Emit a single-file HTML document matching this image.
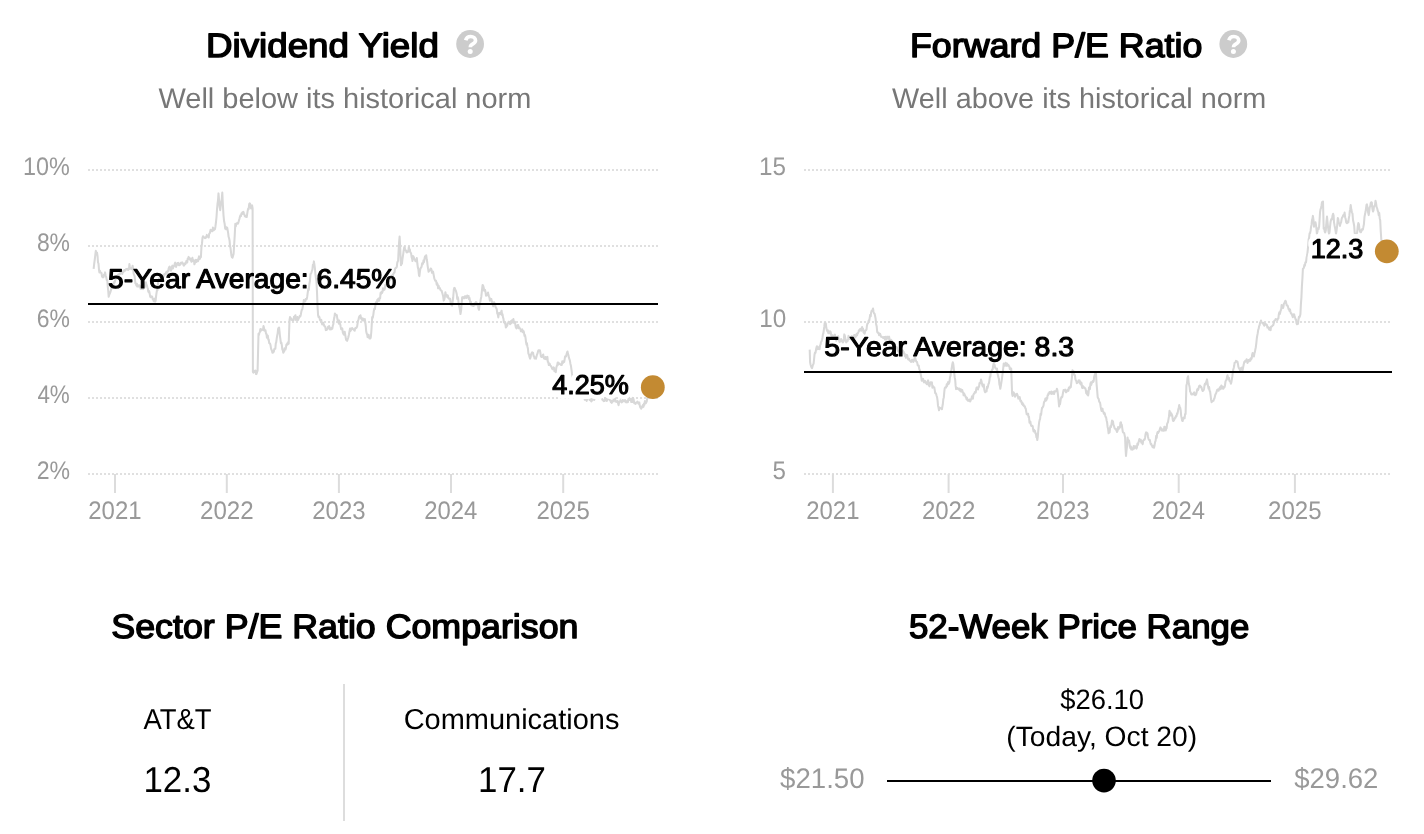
<!DOCTYPE html>
<html><head><meta charset="utf-8"><title>Valuation</title>
<style>
html,body{margin:0;padding:0;background:#fff;}
body{width:1424px;height:834px;overflow:hidden;}
svg{display:block;will-change:transform;}
text{font-family:"Liberation Sans",sans-serif;text-rendering:geometricPrecision;}
</style></head><body>
<svg width="1424" height="834" viewBox="0 0 1424 834">
<line x1="88" y1="170" x2="658" y2="170" stroke="#d6d6d6" stroke-width="1.6" stroke-dasharray="2 2"/>
<line x1="88" y1="246" x2="658" y2="246" stroke="#d6d6d6" stroke-width="1.6" stroke-dasharray="2 2"/>
<line x1="88" y1="322" x2="658" y2="322" stroke="#d6d6d6" stroke-width="1.6" stroke-dasharray="2 2"/>
<line x1="88" y1="398" x2="658" y2="398" stroke="#d6d6d6" stroke-width="1.6" stroke-dasharray="2 2"/>
<line x1="88" y1="474" x2="658" y2="474" stroke="#d6d6d6" stroke-width="1.6" stroke-dasharray="2 2"/>
<line x1="804" y1="170" x2="1390" y2="170" stroke="#d6d6d6" stroke-width="1.6" stroke-dasharray="2 2"/>
<line x1="804" y1="322" x2="1390" y2="322" stroke="#d6d6d6" stroke-width="1.6" stroke-dasharray="2 2"/>
<line x1="804" y1="474" x2="1390" y2="474" stroke="#d6d6d6" stroke-width="1.6" stroke-dasharray="2 2"/>
<line x1="115.0" y1="474" x2="115.0" y2="493" stroke="#dcdcdc" stroke-width="2"/>
<line x1="226.8" y1="474" x2="226.8" y2="493" stroke="#dcdcdc" stroke-width="2"/>
<line x1="338.9" y1="474" x2="338.9" y2="493" stroke="#dcdcdc" stroke-width="2"/>
<line x1="451.0" y1="474" x2="451.0" y2="493" stroke="#dcdcdc" stroke-width="2"/>
<line x1="563.2" y1="474" x2="563.2" y2="493" stroke="#dcdcdc" stroke-width="2"/>
<line x1="832.9" y1="474" x2="832.9" y2="493" stroke="#dcdcdc" stroke-width="2"/>
<line x1="948.6" y1="474" x2="948.6" y2="493" stroke="#dcdcdc" stroke-width="2"/>
<line x1="1063.0" y1="474" x2="1063.0" y2="493" stroke="#dcdcdc" stroke-width="2"/>
<line x1="1178.7" y1="474" x2="1178.7" y2="493" stroke="#dcdcdc" stroke-width="2"/>
<line x1="1294.9" y1="474" x2="1294.9" y2="493" stroke="#dcdcdc" stroke-width="2"/>
<path id="lineL" d="M93.6,268.8 L94.1,264.7 L94.7,260.0 L95.2,256.0 L95.8,250.8 L96.4,252.9 L97.0,252.5 L97.6,256.5 L98.0,262.4 L98.5,263.6 L99.0,269.9 L99.4,272.4 L99.9,270.8 L100.4,272.4 L100.9,272.7 L101.5,273.1 L102.0,276.3 L102.5,277.1 L103.0,277.4 L103.5,277.1 L104.0,274.7 L104.6,274.5 L105.1,272.4 L105.6,275.2 L106.2,277.1 L106.8,280.2 L107.3,280.3 L107.8,286.9 L108.2,290.4 L108.7,296.8 L109.2,294.9 L109.8,293.5 L110.4,292.0 L110.9,290.4 L111.4,288.3 L111.9,287.7 L112.5,284.8 L113.0,286.2 L113.5,284.3 L114.0,282.0 L114.5,282.7 L115.0,280.8 L115.5,279.8 L116.0,276.5 L116.5,278.0 L117.0,277.9 L117.5,276.4 L118.0,274.8 L118.5,276.1 L118.9,275.1 L119.4,273.7 L119.9,273.7 L120.4,273.9 L120.8,271.3 L121.3,270.5 L121.8,273.0 L122.3,273.8 L122.7,271.7 L123.2,272.3 L123.7,271.4 L124.2,270.0 L124.6,270.9 L125.1,270.6 L125.6,269.7 L126.1,269.0 L126.6,269.4 L127.1,268.8 L127.6,269.1 L128.1,270.0 L128.5,268.5 L129.0,269.1 L129.4,264.1 L129.9,267.0 L130.3,268.1 L130.8,267.8 L131.2,269.3 L131.7,267.8 L132.2,267.5 L132.6,265.8 L133.1,268.4 L133.6,273.7 L134.1,274.8 L134.6,276.2 L135.0,279.9 L135.4,283.4 L135.9,283.7 L136.4,285.6 L136.9,283.7 L137.3,286.5 L137.8,286.0 L138.3,285.3 L138.8,286.5 L139.3,285.2 L139.7,286.8 L140.2,287.0 L140.7,289.0 L141.2,286.4 L141.7,286.6 L142.1,288.9 L142.6,287.8 L143.1,289.1 L143.6,287.6 L144.1,287.2 L144.5,287.6 L145.0,286.1 L145.5,282.5 L145.9,282.3 L146.4,284.6 L146.9,285.4 L147.3,287.3 L147.8,288.4 L148.3,291.6 L148.7,292.3 L149.2,291.1 L149.7,293.9 L150.2,296.7 L150.7,297.1 L151.2,296.8 L151.7,296.4 L152.2,296.8 L152.7,299.3 L153.2,299.3 L153.7,301.3 L154.1,299.1 L154.6,298.6 L155.1,301.7 L155.6,300.9 L156.1,296.2 L156.5,293.2 L157.0,290.0 L157.5,290.3 L158.1,281.3 L158.5,280.3 L159.0,278.4 L159.4,280.4 L159.9,279.0 L160.3,278.7 L160.8,276.7 L161.2,279.5 L161.7,276.9 L162.2,277.7 L162.6,277.5 L163.1,277.8 L163.5,276.6 L164.0,275.2 L164.4,274.0 L164.9,273.9 L165.4,274.4 L165.8,273.2 L166.3,272.0 L166.8,273.4 L167.2,271.5 L167.7,271.2 L168.2,271.3 L168.6,268.6 L169.1,267.3 L169.6,266.5 L170.0,268.4 L170.5,269.9 L171.0,270.7 L171.4,269.4 L171.9,266.7 L172.4,265.6 L172.9,268.5 L173.3,266.8 L173.8,266.6 L174.3,265.4 L174.7,263.9 L175.2,262.6 L175.7,265.5 L176.1,266.9 L176.6,264.6 L177.1,264.3 L177.5,263.0 L178.0,264.7 L178.4,262.9 L178.9,265.3 L179.4,265.3 L179.8,265.0 L180.3,264.4 L180.8,262.7 L181.2,263.6 L181.7,262.6 L182.2,262.4 L182.6,262.9 L183.1,263.8 L183.5,265.2 L184.0,265.6 L184.5,263.7 L184.9,263.4 L185.4,264.1 L185.9,263.1 L186.3,261.1 L186.8,261.2 L187.2,262.5 L187.7,258.6 L188.2,258.8 L188.6,256.9 L189.1,258.1 L189.6,259.4 L190.1,258.4 L190.5,259.5 L191.0,260.7 L191.5,261.8 L192.0,258.9 L192.4,257.8 L192.9,260.9 L193.4,261.1 L193.9,260.3 L194.4,264.3 L194.8,263.4 L195.3,260.6 L195.8,259.8 L196.3,262.0 L196.7,261.3 L197.2,259.8 L197.7,261.3 L198.1,261.2 L198.6,258.2 L199.0,256.4 L199.5,259.1 L200.0,258.7 L200.4,256.3 L200.9,257.2 L201.4,247.7 L202.0,243.4 L202.5,237.9 L203.0,236.3 L203.5,236.8 L203.9,237.2 L204.4,237.6 L204.9,238.2 L205.4,237.2 L205.8,237.9 L206.3,236.9 L206.8,234.9 L207.3,236.1 L207.8,236.3 L208.2,237.2 L208.7,237.5 L209.2,233.7 L209.7,233.3 L210.1,232.2 L210.6,229.8 L211.1,230.4 L211.5,230.2 L212.0,231.2 L212.4,231.3 L212.9,227.6 L213.4,228.8 L213.8,230.2 L214.3,228.7 L214.9,229.3 L215.4,226.7 L216.0,222.0 L216.5,217.0 L217.0,209.5 L217.5,204.0 L218.0,200.3 L218.5,193.4 L219.1,200.9 L219.6,206.6 L220.2,210.2 L220.7,206.2 L221.2,202.2 L221.8,198.6 L222.3,192.6 L222.9,205.4 L223.5,215.3 L224.1,221.3 L224.6,223.4 L225.2,228.7 L225.7,226.8 L226.2,229.3 L226.7,229.1 L227.2,227.6 L227.7,230.4 L228.2,233.3 L228.6,236.8 L229.1,238.3 L229.6,240.8 L230.0,246.0 L230.5,248.0 L231.0,252.2 L231.4,255.4 L231.9,257.2 L232.5,257.6 L233.0,256.0 L233.6,253.9 L234.2,244.0 L234.7,235.9 L235.3,223.7 L235.8,226.4 L236.2,223.9 L236.7,223.9 L237.2,222.9 L237.6,223.7 L238.1,223.5 L238.6,221.8 L239.0,220.3 L239.5,218.6 L240.0,216.6 L240.5,215.2 L241.0,216.2 L241.4,213.6 L241.9,213.5 L242.4,212.4 L242.9,213.9 L243.4,211.9 L243.9,213.3 L244.3,214.2 L244.8,216.0 L245.3,216.6 L245.8,216.0 L246.2,216.0 L246.7,217.0 L247.2,213.9 L247.7,210.7 L248.2,208.6 L248.7,208.9 L249.2,204.1 L249.7,203.3 L250.2,204.1 L250.7,206.8 L251.1,208.5 L251.6,206.5 L252.1,205.4 L252.6,208.5 L252.9,372.0 L253.4,372.7 L253.9,370.8 L254.4,372.0 L255.0,371.1 L255.5,370.5 L256.0,374.0 L256.5,374.1 L257.1,371.9 L257.6,370.6 L258.5,333.7 L259.0,334.9 L259.4,332.6 L259.9,332.0 L260.3,329.2 L260.8,329.0 L261.2,330.6 L261.7,330.1 L262.1,329.9 L262.6,329.4 L263.0,329.9 L263.5,326.1 L264.0,328.0 L264.5,330.7 L265.0,330.9 L265.5,330.3 L266.0,333.7 L266.5,333.9 L266.9,337.6 L267.4,336.4 L267.8,335.6 L268.3,339.5 L268.7,339.5 L269.2,343.1 L269.6,343.3 L270.1,343.8 L270.5,345.1 L271.0,348.3 L271.4,349.7 L271.9,350.4 L272.4,352.8 L272.9,352.7 L273.4,351.3 L273.8,351.7 L274.3,348.9 L274.8,348.9 L275.3,348.8 L275.8,343.4 L276.2,342.3 L276.7,338.7 L277.2,335.5 L277.7,333.1 L278.1,328.9 L278.6,327.8 L279.1,327.6 L279.5,331.4 L280.0,336.5 L280.5,339.8 L280.9,343.2 L281.4,342.7 L281.9,345.6 L282.3,349.3 L282.8,350.4 L283.3,352.7 L283.7,350.4 L284.2,351.5 L284.6,348.2 L285.1,348.6 L285.5,349.5 L286.0,347.5 L286.4,344.6 L286.9,345.1 L287.3,343.2 L287.8,344.3 L288.2,342.1 L288.7,343.7 L289.5,320.2 L290.0,317.1 L290.4,319.6 L290.9,318.2 L291.3,318.7 L291.8,320.0 L292.2,319.5 L292.7,320.3 L293.1,319.5 L293.6,320.1 L294.0,316.7 L294.5,317.3 L294.9,316.2 L295.4,315.2 L295.9,320.0 L296.4,318.9 L296.9,318.2 L297.4,317.0 L297.9,320.2 L298.4,319.1 L298.9,318.0 L299.4,316.9 L299.8,315.8 L300.3,316.4 L300.8,314.7 L301.3,311.8 L301.8,309.8 L302.3,309.4 L302.8,306.5 L303.3,304.3 L303.8,300.0 L304.3,301.6 L304.8,300.9 L305.3,301.4 L305.7,299.0 L306.2,299.4 L306.7,299.1 L307.2,296.7 L307.7,292.9 L308.3,288.8 L308.8,290.0 L309.4,283.7 L309.9,281.0 L310.5,274.0 L311.0,273.5 L311.5,272.3 L312.0,270.5 L312.4,269.8 L312.9,264.7 L313.4,265.1 L313.9,261.4 L314.4,264.6 L314.9,268.3 L315.4,274.1 L315.9,277.9 L316.4,280.7 L317.0,291.9 L317.5,305.6 L318.1,315.2 L318.6,317.3 L319.0,316.4 L319.5,317.3 L319.9,319.7 L320.4,320.6 L320.8,320.1 L321.3,319.9 L321.7,322.8 L322.2,324.4 L322.6,323.6 L323.1,322.7 L323.5,323.7 L324.0,325.3 L324.5,326.3 L324.9,326.3 L325.4,327.3 L325.8,330.1 L326.3,329.0 L326.8,329.8 L327.2,328.5 L327.7,328.9 L328.1,326.8 L328.6,328.0 L329.1,326.1 L329.5,327.2 L330.0,329.5 L330.5,329.3 L330.9,328.4 L331.4,329.3 L331.8,327.7 L332.3,328.6 L332.8,325.8 L333.3,324.3 L333.9,319.4 L334.4,317.3 L334.9,313.5 L335.4,314.7 L335.9,315.0 L336.3,314.9 L336.8,315.2 L337.3,318.6 L337.8,320.8 L338.3,320.3 L338.8,323.6 L339.2,320.6 L339.7,323.7 L340.2,324.1 L340.7,326.9 L341.2,329.3 L341.7,328.1 L342.3,328.6 L342.8,332.3 L343.3,333.7 L343.8,334.6 L344.2,334.8 L344.7,331.7 L345.2,334.6 L345.7,337.6 L346.1,339.8 L346.6,340.4 L347.1,340.8 L347.6,339.4 L348.1,338.0 L348.5,336.6 L349.0,334.2 L349.5,331.5 L350.0,328.6 L350.5,330.9 L350.9,330.3 L351.4,328.4 L351.9,328.7 L352.3,328.1 L352.8,329.2 L353.3,329.2 L353.7,329.2 L354.2,330.3 L354.7,330.6 L355.2,328.3 L355.6,327.9 L356.1,328.2 L356.6,327.6 L357.1,326.6 L357.6,323.3 L358.1,320.4 L358.6,319.3 L359.0,317.1 L359.5,316.1 L360.0,317.1 L360.5,315.3 L361.0,318.4 L361.4,317.7 L361.9,319.7 L362.4,320.3 L362.9,318.5 L363.4,320.2 L363.9,320.0 L364.3,320.8 L364.8,319.1 L365.3,322.5 L365.8,326.1 L366.2,331.5 L366.7,333.6 L367.2,334.4 L367.6,337.1 L368.1,336.5 L368.6,334.7 L369.0,337.2 L369.4,338.5 L369.9,338.4 L370.4,338.5 L370.8,337.2 L371.3,332.0 L371.7,325.4 L372.2,317.1 L372.8,317.7 L373.3,314.8 L373.8,311.0 L374.4,308.5 L374.9,309.0 L375.4,305.2 L375.9,302.2 L376.3,303.8 L376.8,303.0 L377.3,299.8 L377.8,301.2 L378.2,298.8 L378.7,299.0 L379.2,300.7 L379.6,298.0 L380.1,298.4 L380.6,292.8 L381.1,293.8 L381.6,291.8 L382.0,293.0 L382.5,291.9 L383.0,288.3 L383.5,290.2 L384.0,289.8 L384.4,289.7 L384.9,287.9 L385.4,284.8 L385.9,286.0 L386.4,282.8 L386.9,282.4 L387.4,283.1 L387.8,282.7 L388.3,282.1 L388.8,279.7 L389.3,280.8 L389.8,280.0 L390.2,278.9 L390.7,277.7 L391.2,278.9 L391.6,276.4 L392.1,275.3 L392.6,276.9 L393.1,274.5 L393.6,273.6 L394.0,272.7 L394.5,272.5 L394.9,269.4 L395.4,268.2 L395.9,267.8 L396.3,267.8 L396.8,266.8 L397.2,263.1 L397.7,261.4 L398.1,261.0 L398.6,250.9 L399.1,242.3 L399.6,236.5 L400.1,245.3 L400.5,255.6 L401.0,265.3 L401.4,263.3 L401.9,263.8 L402.4,259.3 L402.8,256.9 L403.2,254.2 L403.7,250.5 L404.2,247.6 L404.6,246.6 L405.1,249.8 L405.6,250.5 L406.1,250.6 L406.5,252.4 L407.0,252.2 L407.5,252.3 L408.0,251.8 L408.4,250.4 L408.9,246.6 L409.3,250.5 L409.8,249.5 L410.2,252.2 L410.7,252.6 L411.1,253.4 L411.6,257.2 L412.1,258.6 L412.5,261.0 L413.0,256.0 L413.5,256.7 L413.9,257.7 L414.4,259.0 L414.9,259.7 L415.4,261.1 L415.8,261.3 L416.3,260.9 L416.8,258.1 L417.4,264.0 L417.9,267.8 L418.4,269.6 L419.0,275.4 L419.4,276.1 L419.9,271.7 L420.4,268.5 L420.8,267.9 L421.2,267.6 L421.7,266.2 L422.1,263.4 L422.6,264.3 L423.1,263.5 L423.5,260.3 L424.0,262.1 L424.6,258.1 L425.1,256.2 L425.7,257.9 L426.2,255.2 L426.7,259.3 L427.2,261.9 L427.6,265.6 L428.1,268.9 L428.6,271.7 L429.1,271.0 L429.6,270.3 L430.1,270.2 L430.6,268.5 L431.1,268.7 L431.6,270.1 L432.0,272.8 L432.5,271.8 L433.0,271.5 L433.4,273.5 L433.9,276.1 L434.3,278.3 L434.8,279.7 L435.3,280.7 L435.8,280.6 L436.2,281.3 L436.7,284.6 L437.2,283.3 L437.7,284.9 L438.1,288.3 L438.6,285.7 L439.1,288.3 L439.6,287.7 L440.1,289.0 L440.7,290.3 L441.2,290.5 L441.7,290.9 L442.2,292.8 L442.7,294.6 L443.2,296.6 L443.7,300.6 L444.3,299.5 L444.8,297.3 L445.4,292.2 L445.9,294.9 L446.4,294.7 L446.8,295.2 L447.3,297.2 L447.8,295.5 L448.3,297.9 L448.8,298.6 L449.2,298.4 L449.7,298.4 L450.2,298.9 L450.7,303.2 L451.1,303.2 L451.6,305.4 L452.1,305.6 L452.7,301.1 L453.2,297.5 L453.8,289.7 L454.3,287.9 L454.8,288.2 L455.3,289.9 L455.8,290.6 L456.3,292.2 L456.8,294.5 L457.2,298.9 L457.7,296.9 L458.2,298.9 L458.6,303.5 L459.1,306.0 L459.6,308.1 L460.0,310.7 L460.5,314.0 L461.1,310.3 L461.6,304.0 L462.2,297.2 L462.7,297.6 L463.1,297.0 L463.6,298.3 L464.0,297.5 L464.5,298.2 L464.9,296.2 L465.4,296.3 L465.8,297.8 L466.3,296.5 L466.7,297.9 L467.2,295.6 L467.7,297.1 L468.1,297.1 L468.6,296.0 L469.0,299.1 L469.5,298.0 L469.9,300.4 L470.4,303.2 L470.8,301.7 L471.3,305.3 L471.7,303.8 L472.2,305.6 L472.7,304.9 L473.1,305.6 L473.6,306.0 L474.1,305.2 L474.5,303.4 L475.0,303.3 L475.5,304.6 L475.9,302.1 L476.4,302.3 L476.9,304.5 L477.4,305.2 L478.0,305.2 L478.5,308.6 L479.0,309.8 L479.5,305.2 L479.9,303.3 L480.4,301.4 L480.8,298.9 L481.3,296.7 L481.7,292.9 L482.2,288.2 L482.6,285.0 L483.1,285.5 L483.6,287.2 L484.1,290.7 L484.6,290.4 L485.0,289.8 L485.5,292.0 L486.0,295.7 L486.5,295.6 L487.0,295.2 L487.5,294.8 L488.0,292.5 L488.4,294.6 L488.9,296.3 L489.4,297.4 L489.9,300.6 L490.4,298.7 L490.9,300.3 L491.3,299.0 L491.8,301.8 L492.3,301.6 L492.8,304.9 L493.3,306.3 L493.8,304.4 L494.2,302.2 L494.7,303.8 L495.2,305.3 L495.7,307.3 L496.2,308.0 L496.7,309.0 L497.3,313.6 L497.8,314.5 L498.3,317.4 L498.8,314.0 L499.2,312.9 L499.7,313.0 L500.2,313.5 L500.7,314.2 L501.1,312.1 L501.6,310.7 L502.1,315.2 L502.5,314.1 L503.0,317.4 L503.5,318.9 L503.9,322.3 L504.4,322.5 L504.9,323.4 L505.3,322.7 L505.8,327.5 L506.3,327.1 L506.8,325.0 L507.2,325.8 L507.7,323.5 L508.2,322.7 L508.6,321.8 L509.1,321.7 L509.6,322.5 L510.1,324.2 L510.6,323.8 L511.0,321.1 L511.5,323.0 L512.0,320.2 L512.4,322.0 L512.9,322.2 L513.4,319.1 L513.9,322.8 L514.4,321.8 L514.9,321.7 L515.4,325.1 L515.9,327.5 L516.4,328.3 L516.8,327.6 L517.3,325.8 L517.7,324.9 L518.2,324.9 L518.6,328.3 L519.1,327.1 L519.5,327.8 L520.0,328.4 L520.5,329.2 L520.9,331.3 L521.4,331.0 L521.8,330.6 L522.3,329.4 L522.7,332.2 L523.2,331.5 L523.6,331.1 L524.1,333.3 L524.5,335.8 L525.0,335.1 L525.5,337.7 L526.0,341.8 L526.5,344.6 L526.9,343.2 L527.4,346.5 L527.9,348.5 L528.4,353.6 L529.0,354.5 L529.5,357.0 L530.1,358.6 L530.6,357.2 L531.1,354.2 L531.6,353.4 L532.1,352.3 L532.6,352.7 L533.1,353.0 L533.6,356.1 L534.1,356.2 L534.5,358.4 L535.0,357.5 L535.5,358.3 L536.0,358.6 L536.5,356.5 L537.0,354.6 L537.5,353.5 L538.0,351.4 L538.5,350.2 L539.0,350.6 L539.4,350.7 L539.9,350.4 L540.4,353.0 L540.9,356.3 L541.3,356.9 L541.8,356.9 L542.3,356.5 L542.7,355.5 L543.2,354.5 L543.7,357.5 L544.1,358.5 L544.6,357.4 L545.0,358.9 L545.5,357.1 L546.0,359.2 L546.4,359.2 L546.9,358.6 L547.4,356.9 L547.8,361.9 L548.3,362.2 L548.8,365.0 L549.3,363.6 L549.7,363.7 L550.2,365.3 L550.7,365.9 L551.1,366.2 L551.6,367.3 L552.1,368.5 L552.5,369.2 L553.0,368.6 L553.5,367.4 L553.9,367.6 L554.4,371.2 L554.9,370.4 L555.3,370.8 L555.8,372.2 L556.3,367.6 L556.7,366.3 L557.2,365.3 L557.7,362.5 L558.1,364.7 L558.6,362.8 L559.1,363.9 L559.5,363.5 L560.0,364.1 L560.5,364.4 L560.9,365.0 L561.4,364.9 L561.8,364.9 L562.3,361.2 L562.8,363.1 L563.2,362.1 L563.7,361.1 L564.2,361.9 L564.6,359.6 L565.1,356.4 L565.6,356.2 L566.1,356.4 L566.5,354.4 L567.0,352.7 L567.5,351.5 L568.0,353.9 L568.5,355.4 L568.9,357.7 L569.4,359.1 L569.9,360.6 L570.4,363.7 L570.9,365.7 L571.5,369.9 L572.0,373.7 L572.5,376.6 L573.0,377.8 L573.5,377.8 L574.0,379.1 L574.5,380.2 L575.0,380.6 L575.5,381.5 L576.0,385.0 L576.5,386.5 L576.9,386.3 L577.4,386.7 L577.8,388.4 L578.3,388.8 L578.8,391.4 L579.2,390.4 L579.7,392.4 L580.2,391.5 L580.6,394.7 L581.1,395.4 L581.5,397.2 L582.0,396.0 L582.5,395.3 L582.9,395.1 L583.4,397.4 L583.9,396.9 L584.4,397.4 L584.8,399.7 L585.3,397.3 L585.8,398.0 L586.2,399.2 L586.7,400.9 L587.2,398.5 L587.7,397.4 L588.1,396.8 L588.6,396.7 L589.1,397.7 L589.6,399.9 L590.0,398.7 L590.5,400.6 L591.0,399.2 L591.4,401.4 L591.9,400.7 L592.4,398.5 L592.8,397.3 L593.3,397.5 L593.8,398.0 L594.2,400.0 L594.7,397.9 L595.2,395.8 L595.7,394.8 L596.1,394.9 L596.6,397.6 L597.1,395.7 L597.5,394.6 L598.0,397.0 L598.5,398.2 L599.0,396.2 L599.4,396.2 L599.9,396.5 L600.4,397.3 L600.9,395.7 L601.3,394.7 L601.8,396.2 L602.3,399.7 L602.8,399.9 L603.2,400.4 L603.7,401.1 L604.2,400.6 L604.6,400.9 L605.1,397.9 L605.6,398.9 L606.1,399.6 L606.6,400.9 L607.0,400.8 L607.5,396.0 L608.0,396.9 L608.5,396.2 L609.0,399.4 L609.4,399.4 L609.9,400.2 L610.4,400.4 L610.9,402.3 L611.3,401.6 L611.8,402.9 L612.3,400.6 L612.8,401.0 L613.2,401.4 L613.7,400.6 L614.1,399.2 L614.6,398.5 L615.0,398.1 L615.5,401.6 L615.9,400.8 L616.4,401.6 L616.8,401.9 L617.3,401.0 L617.7,401.2 L618.2,403.9 L618.6,405.2 L619.1,402.3 L619.6,401.5 L620.0,401.4 L620.5,400.1 L620.9,401.5 L621.4,402.1 L621.8,402.4 L622.3,401.5 L622.7,400.3 L623.2,398.9 L623.6,401.3 L624.1,399.7 L624.5,401.1 L625.0,400.0 L625.5,401.9 L626.0,402.4 L626.5,402.0 L626.9,401.0 L627.4,402.3 L627.9,402.0 L628.4,398.7 L628.9,396.8 L629.3,400.0 L629.8,399.8 L630.3,400.2 L630.8,398.9 L631.3,402.0 L631.8,401.8 L632.3,402.0 L632.7,397.9 L633.2,398.2 L633.7,399.8 L634.2,403.1 L634.7,403.5 L635.1,403.0 L635.6,403.8 L636.1,402.4 L636.5,402.4 L637.0,402.5 L637.5,401.6 L637.9,402.5 L638.4,403.7 L638.9,403.3 L639.3,402.5 L639.8,405.8 L640.3,407.6 L640.7,406.5 L641.2,408.8 L641.7,406.7 L642.1,406.4 L642.6,407.3 L643.1,404.8 L643.5,406.8 L644.0,403.5 L644.4,404.8 L644.9,401.1 L645.3,402.2 L645.8,403.3 L646.2,402.5 L646.7,401.6 L647.1,399.2 L647.6,397.2 L648.1,396.4 L648.5,396.3 L649.0,395.0 L649.5,392.7 L650.0,390.8 L650.4,391.5 L650.9,392.4 L651.4,391.0 L651.9,390.7 L652.3,390.9 L652.8,387.2" fill="none" stroke="#d8d8d8" stroke-width="2.05" stroke-linejoin="round"/>
<path id="lineR" d="M809.7,349.6 L810.1,362.2 L810.6,364.7 L811.1,366.4 L811.6,367.7 L812.1,368.1 L812.6,365.9 L813.1,364.5 L813.6,363.7 L814.0,359.9 L814.5,354.8 L815.0,352.5 L815.5,352.8 L816.0,349.6 L816.5,347.4 L816.9,346.2 L817.4,349.2 L817.8,346.8 L818.3,348.1 L818.7,349.0 L819.2,348.7 L819.6,349.2 L820.1,345.4 L820.6,344.4 L821.0,341.9 L821.5,341.4 L822.0,339.7 L822.4,338.0 L822.9,334.3 L823.3,333.5 L823.8,330.1 L824.3,326.7 L824.7,323.2 L825.2,322.7 L825.8,323.5 L826.3,327.8 L826.9,330.3 L827.4,331.2 L827.8,330.3 L828.3,333.2 L828.8,331.2 L829.3,333.3 L829.7,332.2 L830.2,331.4 L830.7,332.1 L831.2,335.4 L831.6,335.8 L832.1,335.0 L832.6,337.7 L833.1,337.6 L833.5,336.3 L834.0,338.0 L834.5,334.8 L834.9,334.5 L835.4,337.9 L835.9,336.9 L836.4,340.8 L836.8,337.3 L837.3,338.7 L837.8,337.3 L838.2,336.3 L838.7,339.1 L839.2,341.2 L839.6,342.1 L840.1,340.9 L840.6,341.2 L841.1,339.0 L841.5,341.3 L842.0,340.4 L842.5,340.8 L842.9,342.5 L843.4,341.7 L843.9,338.7 L844.3,334.4 L844.8,335.6 L845.3,338.2 L845.7,341.0 L846.2,342.4 L846.7,340.6 L847.1,340.4 L847.6,341.1 L848.1,339.0 L848.5,335.9 L849.0,337.0 L849.5,338.9 L849.9,337.0 L850.4,338.7 L850.9,337.5 L851.4,336.9 L851.8,336.1 L852.3,338.8 L852.8,337.7 L853.3,337.1 L853.8,337.1 L854.2,335.0 L854.7,335.0 L855.2,337.4 L855.7,335.7 L856.1,336.3 L856.6,334.1 L857.1,335.3 L857.6,333.0 L858.0,333.0 L858.5,331.8 L858.9,330.4 L859.4,330.7 L859.8,329.4 L860.3,328.9 L860.7,329.3 L861.2,330.8 L861.6,328.6 L862.1,327.0 L862.5,328.4 L863.0,328.6 L863.5,332.3 L864.1,333.0 L864.6,333.7 L865.1,331.3 L865.5,330.2 L866.0,330.3 L866.5,329.7 L866.9,326.0 L867.4,323.6 L867.9,323.4 L868.3,322.2 L868.8,320.2 L869.3,320.3 L869.7,317.9 L870.2,314.7 L870.7,316.3 L871.1,312.7 L871.6,310.7 L872.1,311.1 L872.5,309.9 L873.0,308.5 L873.5,311.7 L874.0,313.2 L874.6,313.8 L875.1,316.0 L875.6,318.5 L876.1,323.9 L876.7,326.4 L877.2,332.0 L877.7,332.7 L878.2,332.9 L878.6,332.8 L879.1,335.2 L879.6,334.5 L880.1,333.8 L880.5,335.0 L881.0,336.7 L881.5,336.7 L882.0,337.0 L882.5,337.0 L882.9,337.8 L883.4,338.0 L883.9,337.0 L884.4,337.5 L884.9,339.4 L885.3,336.8 L885.8,338.6 L886.3,339.5 L886.8,337.6 L887.2,336.6 L887.7,337.5 L888.2,338.6 L888.6,337.7 L889.1,336.6 L889.6,339.7 L890.1,340.9 L890.5,341.3 L891.0,339.8 L891.5,340.4 L892.0,341.1 L892.4,343.0 L892.9,342.8 L893.4,344.7 L893.8,343.2 L894.3,343.9 L894.8,344.6 L895.2,347.9 L895.7,347.1 L896.2,347.7 L896.6,347.1 L897.1,347.8 L897.6,350.2 L898.0,351.2 L898.5,351.1 L899.0,351.3 L899.4,352.4 L899.9,352.2 L900.4,351.8 L900.8,353.0 L901.3,351.6 L901.8,351.8 L902.2,351.3 L902.7,350.4 L903.2,351.4 L903.6,351.8 L904.1,353.8 L904.6,353.5 L905.0,356.1 L905.5,355.6 L905.9,357.7 L906.4,355.4 L906.8,354.8 L907.3,355.6 L907.7,358.0 L908.2,359.5 L908.6,358.7 L909.1,358.8 L909.6,360.5 L910.1,360.7 L910.5,361.1 L911.0,361.9 L911.5,361.8 L912.0,359.8 L912.5,360.5 L912.9,359.8 L913.4,361.9 L913.9,360.9 L914.4,359.2 L914.8,357.1 L915.3,358.2 L915.8,360.5 L916.3,361.7 L916.8,361.7 L917.3,363.0 L917.7,365.4 L918.2,365.7 L918.7,365.5 L919.2,368.9 L919.7,369.7 L920.2,372.2 L920.7,374.1 L921.2,376.7 L921.7,380.7 L922.2,379.4 L922.6,379.8 L923.1,378.8 L923.5,381.4 L924.0,382.4 L924.4,381.3 L924.9,380.8 L925.3,381.5 L925.8,382.9 L926.2,382.5 L926.7,384.1 L927.1,384.3 L927.6,381.5 L928.1,380.4 L928.6,383.8 L929.0,385.4 L929.5,386.3 L930.0,384.3 L930.5,382.2 L931.0,382.9 L931.4,382.5 L931.9,382.3 L932.4,387.7 L932.9,386.0 L933.3,386.7 L933.8,387.1 L934.3,387.4 L934.8,390.4 L935.2,393.1 L935.7,393.1 L936.2,394.2 L936.6,395.8 L937.1,397.4 L937.6,400.8 L938.0,405.7 L938.5,407.5 L939.0,410.2 L939.5,407.5 L940.0,408.5 L940.4,408.1 L940.9,408.2 L941.4,408.3 L941.9,409.2 L942.4,406.5 L942.8,404.3 L943.3,399.3 L943.8,397.4 L944.3,391.9 L944.7,388.3 L945.2,387.4 L945.7,387.1 L946.2,387.4 L946.7,384.4 L947.1,386.1 L947.6,383.6 L948.1,382.1 L948.6,384.0 L949.1,383.1 L949.5,381.7 L950.0,377.1 L950.5,375.9 L950.9,371.7 L951.4,369.7 L951.9,366.8 L952.3,364.3 L952.8,362.2 L953.3,364.1 L953.7,367.7 L954.2,372.8 L954.7,377.2 L955.2,379.9 L955.6,385.4 L956.1,389.1 L956.6,388.4 L957.0,387.9 L957.5,388.6 L958.0,389.0 L958.4,388.5 L958.9,389.7 L959.4,388.6 L959.8,390.0 L960.3,390.9 L960.8,389.3 L961.2,391.6 L961.7,390.4 L962.2,390.0 L962.7,392.3 L963.2,392.5 L963.6,395.3 L964.1,393.4 L964.6,394.9 L965.1,395.5 L965.6,396.9 L966.0,397.0 L966.5,399.2 L966.9,397.8 L967.4,400.1 L967.8,400.6 L968.3,400.6 L968.7,400.6 L969.2,399.5 L969.6,401.2 L970.1,401.4 L970.6,400.6 L971.0,399.3 L971.5,398.1 L972.0,396.4 L972.4,397.8 L972.9,398.6 L973.4,394.7 L973.8,393.8 L974.3,393.8 L974.8,392.1 L975.2,392.2 L975.7,392.5 L976.2,389.2 L976.6,387.6 L977.1,387.3 L977.6,388.1 L978.0,389.5 L978.5,387.1 L979.0,386.9 L979.5,383.1 L980.0,382.8 L980.5,383.1 L981.0,379.5 L981.5,381.2 L981.9,383.2 L982.4,385.5 L982.9,386.5 L983.3,386.3 L983.8,384.5 L984.2,389.0 L984.7,391.3 L985.2,392.3 L985.6,392.0 L986.1,391.3 L986.6,391.3 L987.0,386.9 L987.5,388.0 L988.0,386.4 L988.4,384.1 L988.9,383.4 L989.4,380.6 L989.8,377.1 L990.3,377.0 L990.8,371.7 L991.2,371.5 L991.7,371.2 L992.2,369.4 L992.7,369.3 L993.1,366.1 L993.6,363.6 L994.1,364.5 L994.6,364.9 L995.1,367.6 L995.5,368.1 L996.0,368.4 L996.5,369.3 L997.0,368.6 L997.5,373.2 L997.9,375.0 L998.4,377.2 L998.9,378.9 L999.4,384.4 L999.8,385.7 L1000.3,388.8 L1000.8,386.1 L1001.3,382.9 L1001.8,379.6 L1002.2,376.7 L1002.7,372.7 L1003.2,368.3 L1003.7,363.6 L1004.2,364.5 L1004.6,365.8 L1005.1,365.4 L1005.6,362.8 L1006.1,363.7 L1006.5,365.7 L1007.0,363.6 L1007.5,365.6 L1007.9,364.8 L1008.4,364.7 L1008.9,366.2 L1009.3,366.2 L1009.8,369.0 L1010.3,368.1 L1010.7,368.7 L1011.2,368.6 L1012.1,393.8 L1012.6,395.9 L1013.1,393.2 L1013.5,392.3 L1014.0,393.0 L1014.5,395.2 L1015.0,396.8 L1015.5,394.4 L1015.9,394.8 L1016.4,395.3 L1016.9,393.7 L1017.4,395.0 L1017.8,395.9 L1018.3,398.6 L1018.8,397.2 L1019.3,397.5 L1019.7,397.0 L1020.2,400.1 L1020.6,401.5 L1021.1,400.7 L1021.5,401.9 L1022.0,404.1 L1022.4,402.7 L1022.9,405.1 L1023.3,404.2 L1023.8,405.6 L1024.3,406.4 L1024.8,406.3 L1025.3,408.2 L1025.7,408.5 L1026.2,411.5 L1026.7,414.2 L1027.2,413.9 L1027.7,414.7 L1028.1,413.7 L1028.6,417.2 L1029.0,416.8 L1029.5,422.7 L1029.9,421.2 L1030.4,421.7 L1030.8,424.7 L1031.3,426.0 L1031.7,425.6 L1032.2,425.7 L1032.7,426.2 L1033.1,429.3 L1033.6,431.4 L1034.1,429.7 L1034.5,430.3 L1035.0,430.9 L1035.4,433.3 L1035.9,433.3 L1036.4,437.3 L1036.8,437.4 L1037.3,440.0 L1037.8,436.9 L1038.2,431.3 L1038.7,426.1 L1039.2,422.0 L1039.7,419.8 L1040.1,419.0 L1040.6,413.9 L1041.1,414.8 L1041.6,410.5 L1042.1,407.7 L1042.5,407.6 L1043.0,406.8 L1043.5,405.6 L1044.0,402.2 L1044.5,401.3 L1044.9,401.2 L1045.4,398.5 L1045.8,400.2 L1046.3,400.4 L1046.7,397.8 L1047.2,398.6 L1047.6,395.2 L1048.1,395.2 L1048.5,393.3 L1049.0,393.8 L1049.5,392.1 L1049.9,393.4 L1050.4,392.5 L1050.9,393.3 L1051.3,391.6 L1051.8,394.0 L1052.3,392.6 L1052.7,393.5 L1053.2,391.7 L1053.7,393.5 L1054.1,394.0 L1054.6,391.2 L1055.1,391.7 L1055.5,391.5 L1056.0,391.2 L1056.5,390.7 L1056.9,388.8 L1057.4,390.4 L1058.0,395.2 L1058.5,399.8 L1059.1,406.4 L1059.6,402.7 L1060.0,404.3 L1060.5,401.0 L1060.9,398.3 L1061.4,397.1 L1061.8,397.5 L1062.3,396.8 L1062.7,394.5 L1063.2,391.7 L1063.6,390.0 L1064.1,390.4 L1064.6,390.5 L1065.1,389.7 L1065.5,391.1 L1066.0,392.3 L1066.5,392.0 L1067.0,390.7 L1067.4,389.9 L1067.9,390.2 L1068.4,390.8 L1068.9,387.5 L1069.4,387.6 L1069.8,388.1 L1070.3,386.3 L1070.8,387.1 L1071.4,381.5 L1071.9,377.6 L1072.5,370.3 L1073.0,371.1 L1073.5,371.3 L1074.0,374.7 L1074.4,374.9 L1074.9,374.9 L1075.4,379.4 L1075.9,380.4 L1076.4,381.4 L1076.8,383.2 L1077.3,382.9 L1077.8,382.6 L1078.2,381.6 L1078.7,380.2 L1079.2,381.3 L1079.6,380.5 L1080.1,383.7 L1080.6,382.0 L1081.0,384.5 L1081.5,383.0 L1082.0,387.0 L1082.4,388.0 L1082.9,386.1 L1083.4,387.1 L1083.8,387.7 L1084.3,387.3 L1084.8,388.1 L1085.3,388.2 L1085.7,389.7 L1086.2,393.2 L1086.7,391.1 L1087.1,394.5 L1087.6,393.8 L1088.1,395.5 L1088.5,393.5 L1089.0,387.6 L1089.5,388.9 L1089.9,389.2 L1090.4,383.8 L1090.9,382.2 L1091.3,384.9 L1091.8,382.0 L1092.3,382.5 L1092.7,381.1 L1093.2,381.9 L1093.7,381.0 L1094.1,377.0 L1094.6,375.3 L1095.1,373.8 L1095.5,374.5 L1096.0,373.7 L1096.6,384.3 L1097.1,389.8 L1097.7,397.2 L1098.2,398.2 L1098.7,399.1 L1099.2,401.5 L1099.6,402.2 L1100.1,402.9 L1100.6,406.2 L1101.1,408.9 L1101.6,411.0 L1102.0,409.1 L1102.5,408.7 L1102.9,411.4 L1103.4,411.8 L1103.8,413.6 L1104.3,414.0 L1104.7,413.1 L1105.2,415.5 L1105.6,416.9 L1106.1,417.3 L1106.6,420.4 L1107.1,422.3 L1107.6,426.9 L1108.1,428.8 L1108.6,433.3 L1109.1,431.5 L1109.6,432.3 L1110.1,427.8 L1110.5,426.0 L1111.0,427.1 L1111.5,423.8 L1112.0,420.6 L1112.5,421.5 L1113.0,421.3 L1113.4,424.6 L1113.9,425.8 L1114.4,427.6 L1114.8,428.5 L1115.3,428.9 L1115.7,428.7 L1116.2,430.1 L1116.7,431.1 L1117.1,432.0 L1117.6,430.7 L1118.1,427.0 L1118.5,429.2 L1119.0,428.2 L1119.5,427.9 L1120.0,427.1 L1120.4,422.8 L1120.9,422.3 L1121.4,424.9 L1121.8,424.8 L1122.3,428.4 L1122.8,431.8 L1123.2,432.6 L1123.7,432.8 L1124.2,433.1 L1124.6,435.1 L1125.1,437.5 L1125.5,448.2 L1126.0,455.9 L1126.5,450.7 L1127.1,445.8 L1127.6,437.5 L1128.1,441.8 L1128.5,441.7 L1129.0,440.5 L1129.5,443.4 L1129.9,446.5 L1130.4,448.2 L1130.9,446.6 L1131.3,449.5 L1131.8,449.2 L1132.3,448.5 L1132.7,449.6 L1133.2,447.5 L1133.7,446.0 L1134.1,448.6 L1134.6,447.3 L1135.0,446.2 L1135.5,446.3 L1136.0,446.7 L1136.4,448.6 L1136.9,447.5 L1137.4,443.6 L1137.9,444.9 L1138.4,442.8 L1138.9,440.9 L1139.4,439.1 L1139.9,440.7 L1140.3,441.1 L1140.8,439.8 L1141.3,442.7 L1141.8,441.7 L1142.2,441.4 L1142.7,444.2 L1143.2,440.4 L1143.7,440.3 L1144.2,439.4 L1144.6,439.7 L1145.1,437.5 L1145.6,433.8 L1146.1,432.4 L1146.6,432.5 L1147.0,432.9 L1147.5,433.5 L1148.0,437.0 L1148.4,438.5 L1148.9,439.8 L1149.4,439.8 L1149.8,440.0 L1150.3,442.5 L1150.8,444.2 L1151.2,443.7 L1151.7,445.5 L1152.2,446.0 L1152.6,447.2 L1153.1,445.8 L1153.6,447.3 L1154.0,447.7 L1154.5,445.8 L1155.1,441.9 L1155.6,440.8 L1156.2,435.8 L1156.7,438.0 L1157.1,433.8 L1157.6,432.0 L1158.1,433.0 L1158.5,431.6 L1159.0,431.6 L1159.5,430.3 L1159.9,429.2 L1160.4,427.4 L1160.9,428.1 L1161.5,429.5 L1162.0,430.7 L1162.5,430.6 L1162.9,429.4 L1163.4,430.3 L1163.9,430.8 L1164.3,426.8 L1164.8,426.8 L1165.2,428.0 L1165.7,430.4 L1166.2,428.6 L1166.6,428.4 L1167.1,424.0 L1167.6,422.8 L1168.0,422.2 L1168.5,419.2 L1169.0,416.4 L1169.5,410.8 L1169.9,412.8 L1170.4,412.3 L1170.9,415.5 L1171.4,413.6 L1171.9,415.0 L1172.3,415.8 L1172.8,419.8 L1173.3,421.0 L1173.8,420.7 L1174.3,419.6 L1174.7,418.8 L1175.2,417.2 L1175.6,417.7 L1176.1,415.8 L1176.5,416.3 L1177.0,413.4 L1177.4,414.0 L1177.9,411.6 L1178.3,409.3 L1178.8,407.5 L1179.2,405.1 L1179.7,407.2 L1180.2,407.7 L1180.7,410.3 L1181.2,416.1 L1181.7,418.4 L1182.2,420.7 L1182.7,421.0 L1183.2,418.5 L1183.7,417.6 L1184.1,417.9 L1184.6,418.3 L1185.1,414.0 L1185.6,413.9 L1186.4,385.4 L1187.0,383.2 L1187.5,378.1 L1188.1,376.2 L1188.6,382.1 L1189.1,384.8 L1189.6,387.0 L1190.1,391.6 L1190.6,392.1 L1191.1,394.1 L1191.5,394.5 L1192.0,394.1 L1192.4,394.1 L1192.9,394.5 L1193.3,393.8 L1193.8,392.6 L1194.2,392.4 L1194.7,393.4 L1195.1,395.2 L1195.6,393.8 L1196.1,394.6 L1196.5,393.1 L1197.0,390.1 L1197.5,389.0 L1197.9,390.3 L1198.4,389.2 L1198.8,387.1 L1199.3,385.9 L1199.8,385.5 L1200.2,386.0 L1200.7,387.1 L1201.2,386.8 L1201.7,388.2 L1202.2,390.0 L1202.7,391.0 L1203.2,390.4 L1203.7,390.0 L1204.1,388.4 L1204.6,384.7 L1205.1,383.5 L1205.6,384.5 L1206.0,382.4 L1206.5,381.2 L1207.0,379.4 L1207.5,382.6 L1208.1,386.3 L1208.6,388.7 L1209.1,387.1 L1209.6,390.9 L1210.1,391.5 L1210.6,395.3 L1211.1,399.9 L1211.6,402.2 L1212.1,401.4 L1212.5,401.1 L1213.0,400.8 L1213.5,400.7 L1213.9,399.1 L1214.4,398.5 L1214.9,396.4 L1215.3,394.8 L1215.8,393.8 L1216.3,392.8 L1216.7,391.4 L1217.2,389.8 L1217.6,390.3 L1218.1,389.3 L1218.6,390.7 L1219.0,389.0 L1219.5,388.6 L1219.9,387.4 L1220.4,389.2 L1220.9,386.9 L1221.3,385.6 L1221.8,387.9 L1222.2,388.5 L1222.7,386.6 L1223.2,388.8 L1223.6,388.3 L1224.1,387.2 L1224.5,387.2 L1225.0,385.4 L1225.5,381.5 L1226.0,380.4 L1226.5,380.0 L1227.0,377.1 L1227.5,375.3 L1228.0,377.7 L1228.5,378.9 L1229.0,378.0 L1229.4,380.9 L1229.9,381.4 L1230.4,381.7 L1230.9,383.7 L1231.4,382.2 L1231.8,379.7 L1232.3,376.7 L1232.8,372.4 L1233.2,369.7 L1233.7,367.9 L1234.2,365.8 L1234.6,362.7 L1235.1,362.7 L1235.6,362.0 L1236.0,360.9 L1236.5,361.8 L1237.0,361.4 L1237.4,361.6 L1237.9,363.7 L1238.4,366.8 L1238.8,368.0 L1239.3,368.7 L1239.8,369.5 L1240.3,370.9 L1240.7,368.1 L1241.2,367.9 L1241.7,367.6 L1242.1,369.0 L1242.6,370.3 L1243.2,367.1 L1243.7,364.5 L1244.3,361.9 L1244.8,362.1 L1245.2,360.7 L1245.7,361.1 L1246.2,360.7 L1246.6,359.2 L1247.1,361.4 L1247.5,363.0 L1248.0,361.7 L1248.5,360.1 L1248.9,361.4 L1249.4,360.2 L1249.9,359.2 L1250.3,360.7 L1250.8,358.2 L1251.2,359.2 L1251.7,358.4 L1252.1,355.1 L1252.6,353.1 L1253.0,356.1 L1253.5,355.3 L1253.9,356.5 L1254.4,353.5 L1254.9,351.9 L1255.3,349.6 L1255.8,347.2 L1256.3,343.3 L1256.8,338.5 L1257.2,335.9 L1257.7,333.4 L1258.2,329.9 L1258.7,328.7 L1259.1,326.2 L1259.6,325.3 L1260.1,322.6 L1260.6,321.9 L1261.0,320.5 L1261.5,322.3 L1261.9,322.6 L1262.4,322.9 L1262.8,323.5 L1263.3,322.9 L1263.7,324.6 L1264.2,325.7 L1264.6,323.5 L1265.1,324.3 L1265.6,323.7 L1266.0,324.7 L1266.5,325.1 L1266.9,324.9 L1267.4,327.5 L1267.8,326.6 L1268.3,327.6 L1268.7,328.5 L1269.2,329.6 L1269.6,327.8 L1270.1,329.4 L1270.6,330.1 L1271.0,326.8 L1271.5,326.5 L1272.0,326.3 L1272.4,325.8 L1272.9,325.2 L1273.3,325.0 L1273.8,323.0 L1274.3,320.7 L1274.7,320.6 L1275.2,320.1 L1275.7,319.0 L1276.1,319.2 L1276.6,319.4 L1277.0,319.8 L1277.5,319.9 L1277.9,318.6 L1278.4,318.3 L1278.8,314.6 L1279.3,312.4 L1279.7,314.1 L1280.2,312.6 L1280.7,310.2 L1281.1,310.0 L1281.6,305.1 L1282.1,305.4 L1282.5,307.6 L1283.0,308.0 L1283.4,306.9 L1283.9,303.7 L1284.4,303.1 L1284.8,302.0 L1285.3,300.8 L1285.8,301.3 L1286.2,302.9 L1286.7,305.4 L1287.2,305.6 L1287.6,305.6 L1288.1,307.3 L1288.6,309.2 L1289.0,308.7 L1289.5,310.9 L1290.0,309.5 L1290.4,311.5 L1290.9,313.4 L1291.4,313.3 L1291.8,314.3 L1292.3,315.6 L1292.8,317.2 L1293.2,315.2 L1293.7,314.2 L1294.2,314.4 L1294.6,316.1 L1295.1,317.7 L1295.6,319.6 L1296.1,319.6 L1296.5,323.1 L1297.0,324.3 L1297.5,323.4 L1298.0,323.8 L1298.5,319.5 L1298.9,316.8 L1299.4,317.4 L1299.9,316.2 L1300.4,314.2 L1300.9,304.2 L1301.4,297.6 L1301.9,286.4 L1302.4,278.7 L1302.9,268.9 L1303.4,268.6 L1303.9,267.5 L1304.4,264.9 L1304.9,265.7 L1305.4,262.2 L1306.0,262.3 L1306.6,257.4 L1307.2,255.0 L1307.7,250.7 L1308.1,246.7 L1308.6,239.6 L1309.1,237.8 L1309.6,233.4 L1310.1,233.1 L1310.6,230.5 L1311.0,227.3 L1311.5,224.9 L1312.0,220.0 L1312.4,218.9 L1312.9,215.9 L1313.5,220.1 L1314.0,226.7 L1314.5,222.8 L1315.0,224.7 L1315.5,222.3 L1316.0,225.2 L1316.4,228.5 L1316.9,233.8 L1317.5,231.4 L1318.0,228.2 L1318.5,229.2 L1319.1,226.7 L1319.6,219.5 L1320.0,212.5 L1320.5,209.4 L1321.0,208.1 L1321.5,205.4 L1322.0,202.2 L1322.5,202.0 L1323.0,201.5 L1323.7,228.8 L1324.2,227.6 L1324.7,231.5 L1325.2,232.4 L1325.8,230.4 L1326.4,222.7 L1327.0,216.6 L1327.5,221.8 L1328.0,226.8 L1328.6,231.9 L1329.1,233.8 L1329.5,232.5 L1330.0,227.1 L1330.5,222.5 L1330.9,220.2 L1331.5,218.9 L1332.0,219.3 L1332.5,215.7 L1333.1,213.7 L1333.6,215.6 L1334.0,222.3 L1334.5,225.2 L1335.0,227.7 L1335.5,230.6 L1336.0,233.8 L1336.6,230.3 L1337.2,225.1 L1337.8,218.0 L1338.3,219.2 L1338.8,223.3 L1339.4,223.5 L1339.9,225.9 L1340.5,223.5 L1341.1,222.3 L1341.7,218.7 L1342.2,217.2 L1342.7,217.1 L1343.2,215.2 L1343.6,214.9 L1344.1,215.3 L1344.6,212.6 L1345.1,217.2 L1345.7,219.0 L1346.2,222.3 L1346.8,223.1 L1347.3,223.1 L1347.8,221.3 L1348.3,222.4 L1348.8,218.2 L1349.3,215.9 L1349.8,210.9 L1350.2,209.4 L1350.7,205.1 L1351.3,209.3 L1351.9,212.3 L1352.5,213.7 L1353.0,220.0 L1353.6,222.7 L1354.2,226.0 L1354.7,233.1 L1355.3,233.4 L1355.9,233.6 L1356.5,233.8 L1357.1,232.9 L1357.7,226.6 L1358.3,223.1 L1358.9,224.2 L1359.5,229.5 L1360.1,231.7 L1360.6,232.3 L1361.0,232.2 L1361.5,230.9 L1361.9,229.2 L1362.4,229.4 L1362.8,229.7 L1363.3,227.4 L1363.9,224.3 L1364.5,216.9 L1365.1,213.7 L1365.5,212.1 L1366.0,208.7 L1366.5,204.9 L1366.9,204.4 L1367.5,207.8 L1368.1,212.4 L1368.7,215.1 L1369.2,211.6 L1369.7,207.3 L1370.2,206.4 L1370.7,203.1 L1371.2,202.2 L1371.8,202.6 L1372.4,208.6 L1373.0,211.5 L1373.5,210.3 L1374.0,206.3 L1374.5,206.0 L1375.0,205.2 L1375.5,200.8 L1376.0,203.0 L1376.6,207.1 L1377.2,208.4 L1377.7,210.8 L1378.2,211.6 L1378.7,215.2 L1379.2,212.9 L1379.7,218.2 L1380.2,220.2 L1380.8,232.0 L1381.3,239.6 L1381.8,241.6 L1382.2,242.1 L1382.7,244.8 L1383.1,245.0 L1383.6,244.9 L1384.0,247.4 L1384.5,249.4 L1385.0,246.7 L1385.4,246.2 L1385.9,246.7 L1386.3,247.7 L1386.8,251.3" fill="none" stroke="#d8d8d8" stroke-width="2.05" stroke-linejoin="round"/>
<line x1="88" y1="304" x2="658" y2="304" stroke="#000" stroke-width="2"/>
<line x1="804" y1="372" x2="1392" y2="372" stroke="#000" stroke-width="2"/>
<circle cx="652.8" cy="387.2" r="11.9" fill="#c38a32"/>
<circle cx="1386.8" cy="251.3" r="11.9" fill="#c38a32"/>
<circle cx="470.1" cy="44" r="13.9" fill="#cccccc"/>
<g transform="translate(0.00,0)"><path d="M465.7,40.3 C466.3,37.8 468.1,36.5 470.7,36.5 C473.5,36.5 475.5,38.2 475.5,40.4 C475.5,42.8 473.2,43.6 471.6,44.7 C470.7,45.4 470.3,46.0 470.3,47.2" fill="none" stroke="#fff" stroke-width="3.7"/><circle cx="470.2" cy="51.4" r="2.5" fill="#fff"/></g>
<circle cx="1233.3" cy="44" r="13.9" fill="#cccccc"/>
<g transform="translate(763.20,0)"><path d="M465.7,40.3 C466.3,37.8 468.1,36.5 470.7,36.5 C473.5,36.5 475.5,38.2 475.5,40.4 C475.5,42.8 473.2,43.6 471.6,44.7 C470.7,45.4 470.3,46.0 470.3,47.2" fill="none" stroke="#fff" stroke-width="3.7"/><circle cx="470.2" cy="51.4" r="2.5" fill="#fff"/></g>
<line x1="344" y1="684" x2="344" y2="821" stroke="#dddddd" stroke-width="2"/>
<line x1="887" y1="781" x2="1271" y2="781" stroke="#000" stroke-width="2"/>
<circle cx="1104" cy="780.6" r="11.8" fill="#000"/>
<text id="t1" x="205.95" y="57.08" font-weight="normal" font-size="33.72" fill="#000" textLength="232.97" lengthAdjust="spacingAndGlyphs" stroke="#000" stroke-width="1.43" stroke-linejoin="round">Dividend Yield</text>
<text id="s1" x="158.50" y="107.66" font-weight="normal" font-size="28.50" fill="#777" textLength="372.87" lengthAdjust="spacingAndGlyphs">Well below its historical norm</text>
<text id="t2" x="910.03" y="57.08" font-weight="normal" font-size="33.72" fill="#000" textLength="292.36" lengthAdjust="spacingAndGlyphs" stroke="#000" stroke-width="1.43" stroke-linejoin="round">Forward P/E Ratio</text>
<text id="s2" x="892.14" y="107.66" font-weight="normal" font-size="28.50" fill="#777" textLength="374.18" lengthAdjust="spacingAndGlyphs">Well above its historical norm</text>
<text id="yl0" x="23.05" y="174.80" font-weight="normal" font-size="25.30" fill="#999" textLength="46.85" lengthAdjust="spacingAndGlyphs">10%</text>
<text id="yl1" x="36.88" y="250.80" font-weight="normal" font-size="25.30" fill="#999" textLength="33.13" lengthAdjust="spacingAndGlyphs">8%</text>
<text id="yl2" x="36.72" y="326.80" font-weight="normal" font-size="25.30" fill="#999" textLength="33.18" lengthAdjust="spacingAndGlyphs">6%</text>
<text id="yl3" x="37.41" y="402.80" font-weight="normal" font-size="25.30" fill="#999" textLength="32.40" lengthAdjust="spacingAndGlyphs">4%</text>
<text id="yl4" x="36.69" y="478.80" font-weight="normal" font-size="25.30" fill="#999" textLength="33.35" lengthAdjust="spacingAndGlyphs">2%</text>
<text id="yr0" x="759.01" y="175.00" font-weight="normal" font-size="25.30" fill="#999" textLength="26.97" lengthAdjust="spacingAndGlyphs">15</text>
<text id="yr1" x="759.17" y="326.90" font-weight="normal" font-size="25.30" fill="#999" textLength="27.02" lengthAdjust="spacingAndGlyphs">10</text>
<text id="yr2" x="772.50" y="478.90" font-weight="normal" font-size="25.30" fill="#999" textLength="13.43" lengthAdjust="spacingAndGlyphs">5</text>
<text id="xl0" x="88.26" y="519.00" font-weight="normal" font-size="25.30" fill="#999" textLength="53.34" lengthAdjust="spacingAndGlyphs">2021</text>
<text id="xl1" x="200.01" y="519.00" font-weight="normal" font-size="25.30" fill="#999" textLength="53.67" lengthAdjust="spacingAndGlyphs">2022</text>
<text id="xl2" x="312.30" y="519.00" font-weight="normal" font-size="25.30" fill="#999" textLength="53.30" lengthAdjust="spacingAndGlyphs">2023</text>
<text id="xl3" x="424.16" y="519.00" font-weight="normal" font-size="25.30" fill="#999" textLength="53.16" lengthAdjust="spacingAndGlyphs">2024</text>
<text id="xl4" x="536.43" y="519.00" font-weight="normal" font-size="25.30" fill="#999" textLength="53.39" lengthAdjust="spacingAndGlyphs">2025</text>
<text id="xr0" x="806.28" y="519.00" font-weight="normal" font-size="25.30" fill="#999" textLength="53.22" lengthAdjust="spacingAndGlyphs">2021</text>
<text id="xr1" x="921.90" y="519.00" font-weight="normal" font-size="25.30" fill="#999" textLength="53.47" lengthAdjust="spacingAndGlyphs">2022</text>
<text id="xr2" x="1036.27" y="519.00" font-weight="normal" font-size="25.30" fill="#999" textLength="53.28" lengthAdjust="spacingAndGlyphs">2023</text>
<text id="xr3" x="1152.07" y="519.00" font-weight="normal" font-size="25.30" fill="#999" textLength="52.91" lengthAdjust="spacingAndGlyphs">2024</text>
<text id="xr4" x="1268.06" y="519.00" font-weight="normal" font-size="25.30" fill="#999" textLength="53.46" lengthAdjust="spacingAndGlyphs">2025</text>
<text id="avg1" x="108.10" y="288.22" font-weight="normal" font-size="27.13" fill="#000" textLength="288.32" lengthAdjust="spacingAndGlyphs" stroke="#000" stroke-width="1.15" stroke-linejoin="round">5-Year Average: 6.45%</text>
<text id="avg2" x="824.33" y="356.29" font-weight="normal" font-size="27.13" fill="#000" textLength="249.82" lengthAdjust="spacingAndGlyphs" stroke="#000" stroke-width="1.15" stroke-linejoin="round">5-Year Average: 8.3</text>
<text x="552.15" y="394.22" font-weight="normal" font-size="27.13" fill="#fff" stroke="#fff" stroke-width="10" stroke-linejoin="round" textLength="76.65" lengthAdjust="spacingAndGlyphs">4.25%</text>
<text id="cur1" x="552.15" y="394.22" font-weight="normal" font-size="27.13" fill="#000" textLength="76.65" lengthAdjust="spacingAndGlyphs" stroke="#000" stroke-width="1.15" stroke-linejoin="round">4.25%</text>
<text x="1310.73" y="258.22" font-weight="normal" font-size="27.13" fill="#fff" stroke="#fff" stroke-width="10" stroke-linejoin="round" textLength="52.68" lengthAdjust="spacingAndGlyphs">12.3</text>
<text id="cur2" x="1310.73" y="258.22" font-weight="normal" font-size="27.13" fill="#000" textLength="52.68" lengthAdjust="spacingAndGlyphs" stroke="#000" stroke-width="1.15" stroke-linejoin="round">12.3</text>
<text id="sec" x="111.37" y="637.88" font-weight="normal" font-size="33.72" fill="#000" textLength="467.10" lengthAdjust="spacingAndGlyphs" stroke="#000" stroke-width="1.43" stroke-linejoin="round">Sector P/E Ratio Comparison</text>
<text id="rng" x="908.92" y="637.88" font-weight="normal" font-size="33.72" fill="#000" textLength="340.42" lengthAdjust="spacingAndGlyphs" stroke="#000" stroke-width="1.43" stroke-linejoin="round">52-Week Price Range</text>
<text id="att" x="143.53" y="729.00" font-weight="normal" font-size="28.80" fill="#000" textLength="68.10" lengthAdjust="spacingAndGlyphs">AT&amp;T</text>
<text id="com" x="403.71" y="729.00" font-weight="normal" font-size="28.80" fill="#000" textLength="215.67" lengthAdjust="spacingAndGlyphs">Communications</text>
<text id="v1" x="143.44" y="791.90" font-weight="normal" font-size="36.00" fill="#000" textLength="67.88" lengthAdjust="spacingAndGlyphs">12.3</text>
<text id="v2" x="478.01" y="791.90" font-weight="normal" font-size="36.00" fill="#000" textLength="67.87" lengthAdjust="spacingAndGlyphs">17.7</text>
<text id="p1" x="1060.31" y="708.70" font-weight="normal" font-size="28.00" fill="#000" textLength="83.78" lengthAdjust="spacingAndGlyphs">$26.10</text>
<text id="p2" x="1006.32" y="746.40" font-weight="normal" font-size="28.00" fill="#000" textLength="190.85" lengthAdjust="spacingAndGlyphs">(Today, Oct 20)</text>
<text id="lo" x="780.11" y="787.80" font-weight="normal" font-size="28.30" fill="#999" textLength="84.44" lengthAdjust="spacingAndGlyphs">$21.50</text>
<text id="hi" x="1294.23" y="787.80" font-weight="normal" font-size="28.30" fill="#999" textLength="84.21" lengthAdjust="spacingAndGlyphs">$29.62</text>
</svg>
</body></html>
